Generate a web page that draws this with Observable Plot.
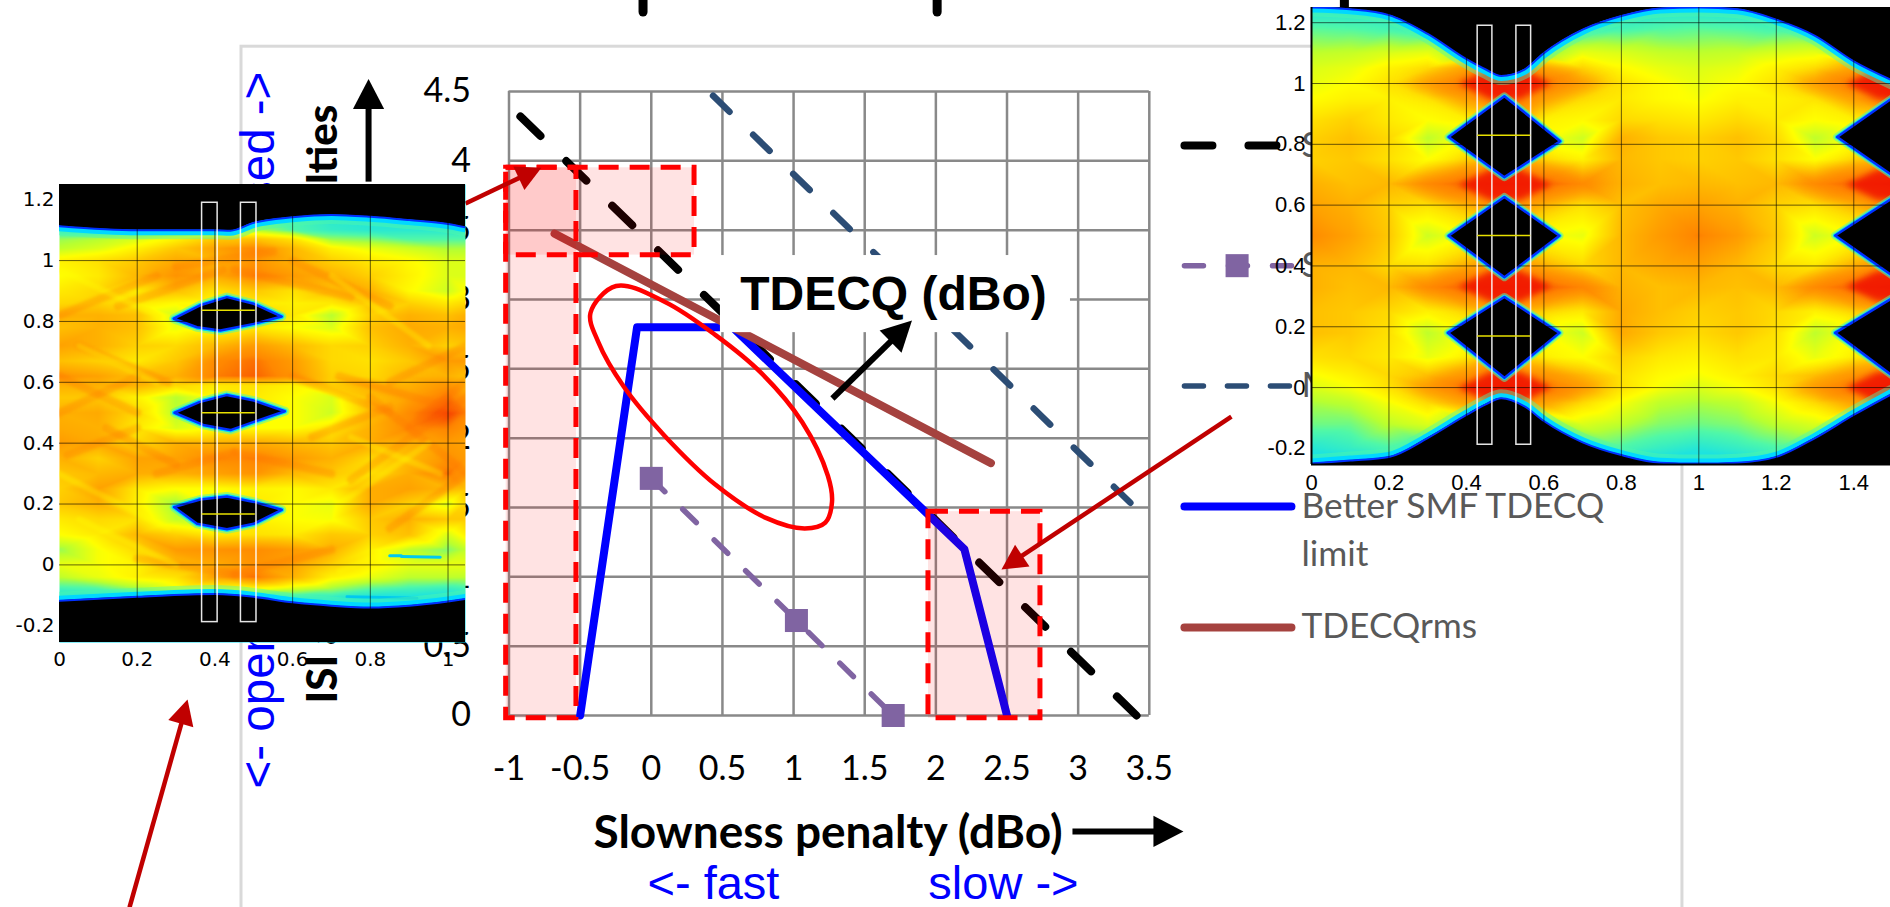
<!DOCTYPE html>
<html>
<head>
<meta charset="utf-8">
<style>
html,body{margin:0;padding:0;width:1890px;height:907px;overflow:hidden;background:#fff}
#page{position:relative;width:1890px;height:907px;overflow:hidden}
</style>
<script src="https://cdn.jsdelivr.net/npm/d3@7"></script>
<script src="https://cdn.jsdelivr.net/npm/@observablehq/plot@0.6"></script>
</head>
<body>
<div id="page"></div>
<script>
// ---------- main chart data (dBo) ----------
const xTicks = [-1,-0.5,0,0.5,1,1.5,2,2.5,3,3.5];
const yTicks = [0,0.5,1,1.5,2,2.5,3,3.5,4,4.5];
const blackX = [-0.92,3.41], blackY = [4.32,0];
const navyX = [0.434,3.445], navyY = [4.47,1.456];
const purpleX = [0,1.02,1.70], purpleY = [1.71,0.685,0];
const blueX = [-0.5,-0.1,0.57,2.2,2.5], blueY = [0,2.8,2.8,1.2,0];
const rmsX = [-0.68,2.387], rmsY = [3.475,1.82];
const ellipseX = [-0.247,0.093,0.452,0.774,1.061,1.241,1.27,1.223,1.079,0.810,0.452,0.093,-0.194,-0.373,-0.427];
const ellipseY = [3.097,2.984,2.743,2.469,2.115,1.729,1.54,1.391,1.349,1.423,1.664,2.018,2.372,2.694,2.904];
const zoneX1 = [-1.02,-1.02,1.948], zoneX2 = [-0.526,0.304,2.735];
const zoneY1 = [-0.02,3.32,-0.02], zoneY2 = [3.95,3.95,1.47];
const legendNames = ["S","S","M","Better SMF TDECQ","limit","TDECQrms"];
const legendLevels = [4.11,3.244,2.376,1.503,1.157,0.638];
const sampleX = [3.747,4.499];
const sampleLevels = [4.11,3.244,2.376,1.507,0.634];

// arrows: shaft start, shaft end, tip, heading
const redX1=[-1.306,-3.667,4.077], redY1=[3.692,-1.384,2.156];
const redX2=[-0.849,-3.282,2.531], redY2=[3.915,0.017,1.101];
const redTipX=[-0.772,-3.259,2.461], redTipY=[3.951,0.115,1.053], redTurn=[64.7,15.7,-123.6];
const inkX1=[1.273,2.960,-1.987], inkY1=[2.286,-0.836,3.85];
const inkX2=[1.757,3.634,-1.987], inkY2=[2.772,-0.836,4.470];
const inkTipX=[1.832,3.740,-1.987], inkTipY=[2.848,-0.836,4.59], inkTurn=[45.5,90,0];
const stubX=[-0.058,2.009,4.871];

// ---------- left eye ----------
const lX=[0,0.1,0.2,0.3,0.4,0.5,0.6,0.7,0.8,0.9,1,1.045];
const lY=[1.25,1.1,1.07,1.04,1,0.95,0.9,0.86,0.82,0.78,0.72,0.67,0.62,0.59,0.55,0.5,0.45,0.4,0.35,0.3,0.25,0.2,0.15,0.1,0.05,0,-0.04,-0.08,-0.11,-0.255];
const lHeat=[
[.22,.22,.22,.22,.22,.22,.22,.22,.22,.22,.22,.22],
[.28,.28,.3,.35,.42,.45,.35,.3,.28,.28,.28,.28],
[.42,.45,.5,.58,.68,.7,.62,.42,.4,.35,.35,.35],
[.46,.5,.58,.68,.78,.85,.72,.58,.52,.48,.44,.44],
[.58,.62,.68,.76,.74,.82,.74,.66,.6,.56,.5,.5],
[.55,.6,.72,.82,.76,.86,.8,.74,.66,.58,.5,.5],
[.6,.64,.6,.7,.62,.68,.62,.7,.74,.56,.48,.55],
[.64,.66,.6,.56,.55,.6,.58,.6,.7,.66,.6,.64],
[.74,.74,.7,.48,.6,.65,.6,.45,.66,.74,.7,.74],
[.7,.74,.7,.52,.55,.6,.55,.5,.7,.76,.74,.76],
[.78,.74,.66,.64,.72,.8,.72,.64,.66,.74,.66,.68],
[.7,.66,.6,.68,.84,.88,.8,.64,.62,.68,.8,.8],
[.82,.78,.7,.74,.86,.9,.82,.66,.64,.72,.74,.7],
[.74,.74,.74,.64,.6,.62,.58,.66,.74,.74,.82,.74],
[.68,.68,.58,.45,.55,.6,.55,.5,.7,.78,.88,.8],
[.74,.76,.64,.45,.55,.6,.55,.48,.7,.84,.95,.86],
[.76,.74,.6,.5,.55,.55,.55,.6,.74,.84,.86,.82],
[.8,.76,.64,.74,.74,.76,.72,.68,.75,.74,.8,.78],
[.74,.66,.78,.78,.84,.86,.8,.74,.64,.72,.82,.8],
[.68,.72,.75,.74,.78,.82,.72,.68,.62,.75,.88,.78],
[.66,.78,.6,.55,.55,.58,.56,.6,.75,.78,.72,.7],
[.68,.74,.58,.42,.55,.6,.55,.52,.75,.66,.5,.64],
[.6,.64,.62,.46,.55,.58,.55,.54,.68,.74,.68,.68],
[.55,.6,.72,.66,.6,.62,.6,.68,.66,.7,.5,.58],
[.42,.54,.64,.8,.82,.84,.8,.74,.58,.46,.4,.46],
[.52,.54,.58,.7,.76,.82,.78,.66,.58,.52,.52,.52],
[.46,.52,.58,.62,.78,.88,.74,.58,.52,.46,.46,.46],
[.32,.34,.42,.52,.54,.54,.48,.42,.35,.32,.3,.32],
[.24,.24,.24,.26,.26,.26,.28,.28,.24,.24,.24,.24],
[.22,.22,.22,.22,.22,.22,.22,.22,.22,.22,.22,.22]];
const lTopX=[0,0.2,0.4,0.44,0.5,0.6,0.7,0.8,0.9,1,1.045];
const lTopY=[1.113,1.1,1.1,1.098,1.124,1.142,1.15,1.144,1.133,1.12,1.109];
const lBotX=[0,0.2,0.4,0.5,0.6,0.7,0.8,0.9,1,1.045];
const lBotY=[-0.118,-0.105,-0.096,-0.105,-0.123,-0.134,-0.14,-0.134,-0.12,-0.112];
const lEyeId=[1,1,1,1,1,1,1,1,1, 2,2,2,2,2,2,2,2,2, 3,3,3,3,3,3,3,3,3];
const lEyeX=[.294,.362,.431,.5,.572,.5,.414,.354,.294, .296,.36,.43,.5,.58,.5,.44,.37,.296, .295,.362,.431,.5,.572,.5,.431,.354,.295];
const lEyeY=[.809,.853,.88,.858,.816,.792,.77,.781,.809, .5,.535,.558,.54,.505,.47,.443,.46,.5, .19,.215,.225,.207,.181,.135,.117,.135,.19];
const lBarX=[.367,.467], lBarW=.04, lLevelX=[.367,.504], lLevels=[.837,.5,.167];
const lSpeckId=[1,1,2,2,3,3], lSpeckX=[.85,.88,.88,.98,.74,.92], lSpeckY=[.03,.03,.028,.025,-.105,-.11];
// streaks seen in the left eye: orange and yellow diagonals
const lOrangeX1=[.0,.15,.45,.3,.6,-.05,-.05,.12,.2,.45,.25,.45,.75,.8,.85,.72,.85,.9,.05,.02,.6,.65];
const lOrangeY1=[.82,.85,.97,.98,1,.47,.65,.45,.02,-.03,.3,.37,.28,.55,.6,.62,.12,.45,.72,.36,.62,.42];
const lOrangeX2=[.25,.42,.75,.55,.85,.2,.2,.3,.45,.7,.45,.7,1.08,1.08,1.08,1.08,1.08,1.08,.28,.2,.85,.85];
const lOrangeY2=[.95,.97,.88,1.03,.85,.62,.5,.33,-.03,.05,.37,.3,.58,.27,.74,.49,.33,.64,.6,.45,.5,.52];
const lYellowX1=[.05,-.05,.0,.7,.72,.72,.05,.75];
const lYellowY1=[.15,.33,.97,.95,.2,-.02,.72,.42];
const lYellowX2=[.3,.28,.25,.95,.95,1,.25,.98];
const lYellowY2=[0,.12,.82,.72,.4,.12,.6,.3];
const lGridX=[.2,.4,.6,.8,1], eyeGridY=[0,.2,.4,.6,.8,1,1.2];

// ---------- right eye ----------
const rX=[0,.1,.2,.3,.4,.5,.6,.7,.8,.9,1,1.1,1.2,1.3,1.4,1.5];
const rY=[1.25,1.18,1.1,1.05,1,.95,.88,.82,.75,.67,.6,.5,.4,.33,.25,.18,.1,.04,0,-.05,-.12,-.2,-.253];
const rHeat=[
[.25,.25,.25,.25,.25,.25,.25,.25,.25,.25,.25,.25,.25,.25,.25,.25],
[.36,.35,.33,.3,.25,.25,.25,.3,.33,.35,.36,.35,.33,.3,.25,.25],
[.46,.47,.5,.52,.4,.3,.4,.52,.5,.47,.46,.47,.5,.52,.4,.3],
[.5,.52,.58,.62,.7,.8,.7,.64,.56,.52,.5,.52,.58,.62,.7,.8],
[.52,.55,.62,.72,.88,1,.88,.72,.62,.56,.52,.55,.62,.72,.88,1],
[.55,.58,.58,.6,.72,.95,.72,.62,.6,.56,.54,.58,.58,.6,.72,.95],
[.62,.66,.6,.55,.58,.6,.58,.56,.64,.62,.6,.64,.6,.55,.58,.6],
[.66,.7,.64,.46,.55,.55,.55,.48,.74,.68,.66,.7,.64,.46,.55,.55],
[.66,.68,.62,.55,.62,.65,.62,.58,.72,.68,.66,.68,.62,.55,.62,.65],
[.74,.7,.72,.82,.93,1,.93,.82,.74,.7,.72,.7,.72,.82,.93,1],
[.78,.74,.66,.62,.68,.8,.68,.62,.7,.76,.78,.74,.66,.62,.68,.8],
[.84,.78,.68,.48,.55,.6,.55,.52,.72,.8,.86,.8,.68,.48,.55,.6],
[.74,.72,.64,.62,.7,.8,.7,.64,.72,.76,.78,.72,.64,.6,.7,.8],
[.74,.7,.72,.82,.94,1,.94,.84,.74,.7,.72,.7,.72,.82,.94,1],
[.7,.68,.64,.58,.62,.65,.62,.6,.76,.7,.66,.68,.64,.58,.62,.65],
[.7,.68,.62,.46,.55,.55,.55,.48,.76,.68,.64,.68,.62,.46,.55,.55],
[.62,.64,.6,.52,.58,.62,.58,.55,.66,.6,.58,.62,.6,.52,.58,.62],
[.54,.58,.64,.68,.76,.92,.76,.7,.62,.56,.54,.58,.64,.68,.76,.92],
[.5,.54,.62,.74,.9,1,.9,.74,.62,.54,.5,.54,.62,.74,.9,1],
[.44,.46,.54,.62,.7,.75,.7,.62,.54,.46,.44,.46,.54,.62,.7,.75],
[.38,.38,.46,.5,.4,.3,.4,.5,.46,.4,.38,.4,.46,.5,.4,.3],
[.27,.3,.34,.3,.25,.25,.25,.3,.34,.3,.27,.3,.34,.3,.25,.25],
[.22,.22,.22,.22,.22,.22,.22,.22,.22,.22,.22,.22,.22,.22,.22,.22]];
const rTopX=[0,.1,.2,.3,.4,.45,.49,.55,.6,.7,.8,.9,1,1.1,1.2,1.3,1.4,1.5];
const rTopY=[1.25,1.244,1.225,1.163,1.08,1.046,1.025,1.046,1.1,1.177,1.222,1.247,1.25,1.244,1.21,1.157,1.073,1.01];
const rBotX=[0,.1,.2,.3,.4,.45,.49,.55,.6,.7,.8,.9,1,1.1,1.2,1.3,1.4,1.5];
const rBotY=[-.25,-.24,-.228,-.166,-.09,-.055,-.035,-.062,-.11,-.18,-.222,-.247,-.25,-.247,-.228,-.166,-.09,-.02];
const rEyeId=[1,1,1,1,1, 2,2,2,2,2, 3,3,3,3,3, 4,4,4,4, 5,5,5,5, 6,6,6,6];
const rEyeX=[.354,.498,.642,.498,.354, .354,.498,.64,.498,.354, .352,.498,.64,.498,.352, 1.357,1.52,1.52,1.357, 1.352,1.52,1.52,1.352, 1.352,1.52,1.52,1.352];
const rEyeY=[.824,.958,.81,.692,.824, .499,.627,.499,.363,.499, .18,.298,.18,.032,.18, .824,.97,.68,.824, .5,.64,.35,.5, .18,.31,.02,.18];
const rBarX=[.429,.529], rBarW=.038, rLevelX=[.429,.566], rLevels=[.83,.5,.17];
// where the traces cross, and the bow-tie outlines round each crossing
const rCrossX=[.5,.5,.5,.5,1.5,1.5,1.5,1.5], rCrossY=[1,.667,.333,0,1,.667,.333,0];
const fanDX=[-.26,-.07,.07,.26,.07,-.07,-.26], fanDY=[0,.085,.085,0,-.085,-.085,0];
const coreDX=[-.12,-.04,.04,.12,.04,-.04,-.12], coreDY=[0,.05,.05,0,-.05,-.05,0];
const rGridX=[.2,.4,.6,.8,1,1.2,1.4];

// ---------- colours ----------
const heatDomain=[.2,.35,.45,.55,.7,.85,1];
const heatRange=["#00D8FF","#50F8A8","#B8FF30","#FFFF00","#FFC000","#FF8800","#F01000"];
const grey="#898989", soft="#D9D9D9", label="#595959", darkRed="#C00000";
const black="#000000", navy="#2C4D75", purple="#8064A2", blue="#0000FF", maroon="#A5423F";

// ---------- helpers that build tables for the marks ----------
const zip=(o)=>{const k=Object.keys(o);return o[k[0]].map((_,i)=>Object.fromEntries(k.map(n=>[n,o[n][i]])));};
const head={draw(c,l){c.moveTo(0,-l);c.lineTo(l*.52,0);c.lineTo(-l*.52,0);c.closePath();}};
const grid=(xs,ys,m)=>ys.flatMap((y,i)=>xs.map((x,j)=>({x,y,v:m[i][j]})));
const twoPts=(X,Y)=>X.map((x,i)=>({x,y:Y[i]}));
const bowties=(dx,dy)=>rCrossX.flatMap((cx,i)=>dx.map((d,j)=>({id:i,x:cx+d,y:rCrossY[i]+dy[j]})));

function eyeMarks(cfg){
  const env=twoPts(cfg.topX,cfg.topY), low=twoPts(cfg.botX,cfg.botY);
  const polys=zip({id:cfg.eyeId,x:cfg.eyeX,y:cfg.eyeY});
  const pl={x:"x",y:"y",z:"id",clip:"frame"};
  const xy={x:"x",y:"y",curve:"monotone-x",clip:"frame"};
  return [
    Plot.raster(grid(cfg.x,cfg.y,cfg.heat),{x:"x",y:"y",fill:"v",interpolate:"barycentric",imageRendering:"auto"}),
    ...(cfg.extras||[]),
    Plot.line(env,{...xy,stroke:"#50F8A8",strokeWidth:18,strokeOpacity:.45}),
    Plot.line(low,{...xy,stroke:"#50F8A8",strokeWidth:18,strokeOpacity:.45}),
    Plot.line(env,{...xy,stroke:"#00D8FF",strokeWidth:10}),
    Plot.line(low,{...xy,stroke:"#00D8FF",strokeWidth:10}),
    Plot.areaY(env,{x:"x",y1:()=>cfg.yTop,y2:"y",curve:"monotone-x",fill:"black"}),
    Plot.areaY(low,{x:"x",y1:()=>cfg.yBot,y2:"y",curve:"monotone-x",fill:"black"}),
    Plot.line(env,{...xy,stroke:"#0030FF",strokeWidth:2}),
    Plot.line(low,{...xy,stroke:"#0030FF",strokeWidth:2}),
    Plot.line(polys,{...pl,stroke:"#50F8A8",strokeWidth:cfg.halo,strokeOpacity:.55,strokeLinejoin:"round"}),
    Plot.line(polys,{...pl,stroke:"#00D8FF",strokeWidth:cfg.halo*.55,strokeLinejoin:"round"}),
    Plot.line(polys,{...pl,fill:"black",stroke:"#0030FF",strokeWidth:2.5,strokeLinejoin:"round"}),
    Plot.gridX(cfg.gridX,{stroke:"black",strokeOpacity:.6,strokeWidth:1}),
    Plot.gridY(eyeGridY,{stroke:"black",strokeOpacity:.6,strokeWidth:1}),
    Plot.rect(cfg.barX,{x1:d=>d,x2:d=>d+cfg.barW,y1:()=>-.188,y2:()=>1.19,fill:"none",stroke:"white",strokeWidth:1.5,strokeOpacity:.9}),
    Plot.ruleY(cfg.levels,{x1:()=>cfg.levelX[0],x2:()=>cfg.levelX[1],stroke:"#E8E000",strokeWidth:1.5})
  ];
}

const page=document.getElementById("page");

// ---------- main plot ----------
const lato="Lato", arial="Liberation Sans";
const main=Plot.plot({
  width:1890,height:907,marginLeft:508.5,marginRight:741.2,marginTop:91,marginBottom:192,
  style:{position:"absolute",left:"0",top:"0",background:"transparent"},
  x:{domain:[-1,3.5]},y:{domain:[0,4.5]},
  marks:[
    Plot.rect([0],{x1:()=>-2.880,x2:()=>7.247,y1:()=>-1.6,y2:()=>4.823,fill:"none",stroke:soft,strokeWidth:3}),
    Plot.ruleX(stubX,{y1:()=>5.07,y2:()=>5.4,stroke:"black",strokeWidth:9,strokeLinecap:"round"}),
    Plot.gridX(xTicks,{stroke:grey,strokeOpacity:1,strokeWidth:2.5}),
    Plot.gridY(yTicks,{stroke:grey,strokeOpacity:1,strokeWidth:2.5}),
    Plot.axisX(xTicks,{tickSize:0,tickPadding:40,fontSize:34,fontFamily:lato,label:null,tickFormat:d=>String(d)}),
    Plot.axisY(yTicks,{tickSize:0,tickPadding:38,fontSize:34,fontFamily:lato,label:null,tickFormat:d=>String(d)}),
    // series
    Plot.line(twoPts(navyX,navyY),{x:"x",y:"y",stroke:navy,strokeWidth:6.5,strokeDasharray:"23,33",strokeLinecap:"round"}),
    Plot.line(twoPts(blackX,blackY),{x:"x",y:"y",stroke:black,strokeWidth:8,strokeDasharray:"28,36",strokeLinecap:"round"}),
    Plot.line(twoPts(purpleX,purpleY),{x:"x",y:"y",stroke:purple,strokeWidth:5.5,strokeDasharray:"19,25",strokeLinecap:"round"}),
    Plot.dot(twoPts(purpleX,purpleY),{x:"x",y:"y",symbol:"square",r:13,fill:purple,stroke:"none"}),
    Plot.line(twoPts(blueX,blueY),{x:"x",y:"y",stroke:blue,strokeWidth:8,strokeLinejoin:"round"}),
    Plot.line(twoPts(rmsX,rmsY),{x:"x",y:"y",stroke:maroon,strokeWidth:8,strokeLinecap:"round"}),
    // highlighted zones
    Plot.rect(zip({a:zoneX1,b:zoneX2,c:zoneY1,d:zoneY2}),{x1:"a",x2:"b",y1:"c",y2:"d",fill:"#FF0000",fillOpacity:.11,stroke:"#FF0000",strokeWidth:5,strokeDasharray:"20,11"}),
    // legend
    Plot.line(sampleX.map(x=>({x,y:sampleLevels[0]})),{x:"x",y:"y",stroke:black,strokeWidth:8,strokeDasharray:"28,36",strokeLinecap:"round"}),
    Plot.line(sampleX.map(x=>({x,y:sampleLevels[1]})),{x:"x",y:"y",stroke:purple,strokeWidth:5.5,strokeDasharray:"19,25",strokeLinecap:"round"}),
    Plot.dot([{x:(sampleX[0]+sampleX[1])/2-.006,y:sampleLevels[1]}],{x:"x",y:"y",symbol:"square",r:13,fill:purple,stroke:"none"}),
    Plot.line(sampleX.map(x=>({x,y:sampleLevels[2]})),{x:"x",y:"y",stroke:navy,strokeWidth:5.5,strokeDasharray:"19,24",strokeLinecap:"round"}),
    Plot.line(sampleX.map(x=>({x,y:sampleLevels[3]})),{x:"x",y:"y",stroke:blue,strokeWidth:8,strokeLinecap:"round"}),
    Plot.line(sampleX.map(x=>({x,y:sampleLevels[4]})),{x:"x",y:"y",stroke:maroon,strokeWidth:8,strokeLinecap:"round"}),
    Plot.text(legendNames,{x:()=>4.569,y:(d,i)=>legendLevels[i],text:d=>d,textAnchor:"start",fontSize:35.3,fontFamily:lato,fill:label}),
    // callout
    Plot.rect([0],{x1:()=>.486,x2:()=>2.946,y1:()=>2.761,y2:()=>3.317,fill:"white"}),
    Plot.text(["TDECQ (dBo)"],{x:()=>1.702,y:()=>3.035,text:d=>d,fontSize:48,fontWeight:700,fontFamily:arial,fill:"black"}),
    Plot.line(zip({x:ellipseX,y:ellipseY}),{x:"x",y:"y",curve:"catmull-rom-closed",stroke:"#FF0000",strokeWidth:4.5}),
    // arrows
    Plot.link(zip({a:redX1,b:redY1,c:redX2,d:redY2}),{x1:"a",y1:"b",x2:"c",y2:"d",stroke:darkRed,strokeWidth:4.5}),
    Plot.vector(zip({x:redTipX,y:redTipY,r:redTurn}),{x:"x",y:"y",rotate:"r",length:25,anchor:"end",shape:head,fill:darkRed,stroke:"none"}),
    Plot.link(zip({a:inkX1,b:inkY1,c:inkX2,d:inkY2}),{x1:"a",y1:"b",x2:"c",y2:"d",stroke:"black",strokeWidth:6}),
    Plot.vector(zip({x:inkTipX,y:inkTipY,r:inkTurn}),{x:"x",y:"y",rotate:"r",length:30,anchor:"end",shape:head,fill:"black",stroke:"none"}),
    // axis wording
    Plot.text(["Slowness penalty (dBo)"],{x:()=>1.242,y:()=>-.848,text:d=>d,fontSize:46,fontWeight:700,fontFamily:lato,fill:"black"}),
    Plot.text(["<- fast"],{x:()=>.437,y:()=>-1.218,text:d=>d,fontSize:47,fontFamily:arial,fill:blue}),
    Plot.text(["slow ->"],{x:()=>2.475,y:()=>-1.218,text:d=>d,fontSize:47,fontFamily:arial,fill:blue}),
    Plot.text(["<- open"],{x:()=>-2.760,y:()=>-.526,text:d=>d,rotate:-90,textAnchor:"start",fontSize:47.5,fontFamily:arial,fill:blue}),
    Plot.text(["closed ->"],{x:()=>-2.760,y:()=>4.643,text:d=>d,rotate:-90,textAnchor:"end",fontSize:47.5,fontFamily:arial,fill:blue}),
    Plot.text(["ISI and"],{x:()=>-2.30,y:()=>.087,text:d=>d,rotate:-90,textAnchor:"start",fontSize:42,fontWeight:900,fontFamily:lato,fill:"black"}),
    Plot.text(["penalties"],{x:()=>-2.30,y:()=>4.405,text:d=>d,rotate:-90,textAnchor:"end",fontSize:42,fontWeight:900,fontFamily:lato,fill:"black"})
  ]
});
page.append(main);

// ---------- left eye plot ----------
const heatScale={type:"linear",domain:heatDomain,range:heatRange};
const leftEye=Plot.plot({
  width:480,height:530,marginLeft:59,marginRight:15,marginTop:24,marginBottom:48,
  style:{position:"absolute",left:"0",top:"160px",background:"transparent"},
  x:{domain:[0,1.045]},y:{domain:[-.255,1.25]},color:heatScale,
  marks:[
    ...eyeMarks({x:lX,y:lY,heat:lHeat,topX:lTopX,topY:lTopY,botX:lBotX,botY:lBotY,yTop:1.25,yBot:-.255,
      eyeId:lEyeId,eyeX:lEyeX,eyeY:lEyeY,gridX:lGridX,barX:lBarX,barW:lBarW,levels:lLevels,levelX:lLevelX,halo:9,
      extras:[
        Plot.link(zip({a:lOrangeX1,b:lOrangeY1,c:lOrangeX2,d:lOrangeY2}),{x1:"a",y1:"b",x2:"c",y2:"d",stroke:"#FF7000",strokeOpacity:.28,strokeWidth:8,strokeLinecap:"round",clip:"frame",imageFilter:"blur(1.5px)"}),
        Plot.link(zip({a:lYellowX1,b:lYellowY1,c:lYellowX2,d:lYellowY2}),{x1:"a",y1:"b",x2:"c",y2:"d",stroke:"#FFFF00",strokeOpacity:.3,strokeWidth:6,strokeLinecap:"round",clip:"frame",imageFilter:"blur(1.5px)"}),
        Plot.line(zip({id:lSpeckId,x:lSpeckX,y:lSpeckY}),{x:"x",y:"y",z:"id",stroke:"#00C8F0",strokeWidth:3})
      ]}),
    Plot.axisX([0,.2,.4,.6,.8,1],{tickSize:0,tickPadding:9,fontSize:20,fontFamily:"DejaVu Sans",label:null,tickFormat:d=>String(d)}),
    Plot.axisY([-.2,0,.2,.4,.6,.8,1,1.2],{tickSize:0,tickPadding:5,fontSize:20,fontFamily:"DejaVu Sans",label:null,tickFormat:d=>String(d)})
  ]
});
page.append(leftEye);

// ---------- right eye plot ----------
const rightEye=Plot.plot({
  width:632,height:500,marginLeft:51,marginRight:0,marginTop:7,marginBottom:36,
  style:{position:"absolute",left:"1260px",top:"0",background:"transparent"},
  x:{domain:[0,1.5]},y:{domain:[-.253,1.25]},color:heatScale,
  marks:[
    ...eyeMarks({x:rX,y:rY,heat:rHeat,topX:rTopX,topY:rTopY,botX:rBotX,botY:rBotY,yTop:1.25,yBot:-.253,
      eyeId:rEyeId,eyeX:rEyeX,eyeY:rEyeY,gridX:rGridX,barX:rBarX,barW:rBarW,levels:rLevels,levelX:rLevelX,halo:8,
      extras:[
        Plot.line(bowties(fanDX,fanDY),{x:"x",y:"y",z:"id",fill:"#FF8000",fillOpacity:.55,stroke:"none",imageFilter:"blur(7px)"}),
        Plot.line(bowties(coreDX,coreDY),{x:"x",y:"y",z:"id",fill:"#F01000",fillOpacity:.85,stroke:"none",imageFilter:"blur(3px)"})
      ]}),
    Plot.ruleX([0],{stroke:"black",strokeWidth:2}),
    Plot.ruleY([-.253],{stroke:"black",strokeWidth:2}),
    Plot.axisX([0,.2,.4,.6,.8,1,1.2,1.4],{tickSize:0,tickPadding:10,fontSize:22,fontFamily:arial,label:null,tickFormat:d=>String(d)}),
    Plot.axisY([-.2,0,.2,.4,.6,.8,1,1.2],{tickSize:0,tickPadding:6,fontSize:22,fontFamily:arial,label:null,tickFormat:d=>String(d)})
  ]
});
page.append(rightEye);
</script>
</body>
</html>
